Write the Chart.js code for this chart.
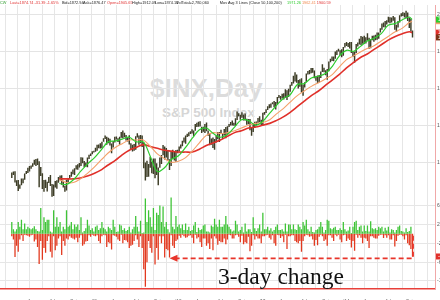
<!DOCTYPE html>
<html>
<head>
<meta charset="utf-8">
<script src="https://cdn.jsdelivr.net/npm/chart.js@4.4.1/dist/chart.umd.min.js"></script>
<style>
html, body { margin: 0; padding: 0; background: #fff; width: 440px; height: 300px; overflow: hidden; }
#wrap { position: absolute; left: 0; top: 0; width: 470px; height: 300px; z-index: 1; }
.mark { position: absolute; z-index: 0; font-family: "Liberation Sans", Arial, sans-serif; font-weight: bold; white-space: nowrap; }
#head { position: absolute; left: 0; top: 0; width: 920px; height: 12px; z-index: 2; transform: scale(0.48); transform-origin: 0 0; }
#head span { position: absolute; top: 1px; font-family: "Liberation Sans", Arial, sans-serif; font-size: 8px; line-height: 10px; white-space: nowrap; color: #222; }
#note { position: absolute; left: 218px; top: 264px; z-index: 2; font-family: "Liberation Serif", "Times New Roman", serif; font-size: 23.5px; line-height: 24px; color: #111; white-space: nowrap; }
</style>
</head>
<body>
<div class="mark" style="left:150px;top:75px;font-size:26px;line-height:26px;color:#dcdcdc">$INX,Day</div>
<div class="mark" style="left:162px;top:106px;font-size:13.5px;line-height:14px;color:#d6d6d6">S&amp;P 500 Index</div>
<div id="head">
  <span style="left:0;color:#2a9a2a">CW</span>
  <span style="left:21px;color:#e03030">Last=1874.74 -31.39 -1.65%</span>
  <span style="left:129px">Bid=1872.94</span>
  <span style="left:173px">Ask=1876.47</span>
  <span style="left:223px;color:#e03030">Open=1905.65</span>
  <span style="left:275px">High=1912.09</span>
  <span style="left:323px">Low=1874.14</span>
  <span style="left:367px">VolTotal=2,780,060</span>
  <span style="left:458px">Mov Avg 3 Lines (Close 50,100,200)</span>
  <span style="left:598px;color:#2ecc2e">1971.26</span>
  <span style="left:629px;color:#f08a50">1962.41</span>
  <span style="left:660px;color:#e03030">1900.59</span>
</div>
<div id="note">3-day change</div>
<div id="wrap"><canvas id="chart" width="470" height="300"></canvas></div>
<script>
// weekly S&P 500 range, week 0 = week of Jan 4 2010, last = Oct 13 2014
const weekHigh = [
  1145,1150,1151,1103,1104,1080,1112,1112,1139,1153,
  1170,1180,1182,1195,1213,1218,1220,1205,1174,1141,
  1104,1105,1094,1120,1131,1082,1079,1099,1103,1120,
  1128,1129,1100,1073,1105,1110,1131,1149,1160,1167,
  1184,1189,1196,1227,1226,1207,1198,1226,1241,1247,
  1259,1262,1278,1294,1296,1302,1311,1330,1344,1338,
  1332,1327,1301,1315,1338,1339,1329,1338,1364,1371,
  1359,1347,1334,1346,1303,1295,1298,1341,1356,1344,
  1347,1345,1307,1199,1208,1190,1230,1204,1220,1220,
  1195,1171,1225,1239,1293,1285,1277,1264,1216,1261,
  1267,1255,1266,1268,1285,1296,1316,1333,1345,1354,
  1362,1368,1378,1372,1406,1414,1419,1422,1392,1392,
  1406,1415,1372,1354,1328,1334,1326,1344,1363,1363,
  1375,1357,1380,1390,1395,1407,1418,1426,1413,1438,
  1474,1465,1457,1470,1458,1464,1435,1434,1433,1388,
  1409,1419,1420,1439,1448,1430,1467,1472,1486,1503,
  1514,1518,1524,1531,1525,1552,1564,1558,1570,1573,
  1594,1589,1597,1619,1634,1668,1687,1674,1644,1648,
  1654,1620,1632,1680,1693,1698,1710,1709,1696,1665,
  1669,1671,1690,1730,1711,1697,1704,1745,1760,1772,
  1771,1799,1805,1813,1806,1811,1823,1844,1850,1844,
  1850,1850,1799,1798,1839,1847,1867,1883,1878,1884,
  1875,1897,1873,1866,1884,1885,1889,1902,1901,1924,
  1950,1955,1964,1968,1986,1984,1983,1991,1984,1943,
  1964,1994,2006,2011,2008,2019,2010,1982,1977,1912
];
const weekLow = [
  1115,1131,1090,1071,1044,1056,1075,1086,1105,1136,
  1142,1150,1165,1175,1186,1180,1185,1065,1126,1055,
  1040,1060,1042,1088,1071,1011,1018,1063,1056,1089,
  1102,1078,1063,1040,1047,1091,1111,1122,1135,1131,
  1160,1159,1171,1180,1194,1173,1176,1173,1218,1233,
  1243,1252,1257,1262,1275,1274,1276,1311,1326,1294,
  1303,1291,1249,1280,1307,1323,1309,1295,1332,1329,
  1335,1318,1312,1296,1268,1258,1262,1267,1333,1295,
  1303,1282,1168,1101,1120,1122,1170,1140,1136,1114,
  1131,1075,1170,1191,1238,1215,1226,1209,1158,1179,
  1218,1209,1202,1248,1258,1274,1286,1306,1300,1337,
  1340,1352,1355,1340,1370,1391,1392,1393,1358,1365,
  1358,1367,1343,1292,1295,1277,1267,1306,1324,1309,
  1352,1326,1345,1329,1354,1391,1398,1398,1397,1396,
  1428,1449,1430,1440,1425,1426,1403,1405,1373,1343,
  1363,1385,1398,1411,1416,1401,1398,1456,1466,1482,
  1492,1495,1514,1497,1485,1514,1547,1538,1545,1539,
  1548,1536,1553,1581,1614,1626,1636,1630,1598,1608,
  1577,1560,1604,1632,1674,1676,1681,1684,1654,1640,
  1627,1633,1655,1688,1687,1670,1646,1692,1740,1747,
  1746,1760,1780,1798,1779,1768,1776,1820,1828,1823,
  1815,1790,1770,1738,1791,1825,1836,1834,1840,1839,
  1842,1858,1814,1816,1859,1851,1860,1862,1868,1901,
  1916,1930,1929,1944,1955,1952,1955,1965,1916,1904,
  1928,1955,1988,1990,1983,1978,1963,1926,1905,1874
];

// biggest 3-day gain / loss (%) inside each week
const chgUp = [
  2.5,1.0,0.5,1.0,2.5,1.5,3.0,1.0,2.2,1.0,
  1.5,1.2,1.0,1.2,1.6,1.0,0.6,0.5,5.5,0.8,
  3.5,2.5,3.0,3.0,0.5,0.3,5.0,1.5,3.5,1.5,
  2.5,0.5,1.5,1.0,5.0,1.5,1.8,2.5,1.0,2.0,
  1.5,2.0,0.8,3.5,0.3,0.6,1.2,3.0,1.8,0.8,
  1.2,0.5,1.5,1.8,0.8,1.2,2.5,1.3,1.0,0.5,
  1.5,1.2,0.8,3.0,1.5,0.4,0.5,2.0,1.8,0.8,
  1.2,0.6,0.8,1.5,0.3,1.0,1.5,3.8,1.5,0.5,
  2.8,0.2,0.3,7.5,2.5,5.0,3.5,1.5,5.5,0.8,
  4.5,4.0,6.0,2.5,5.8,1.5,2.5,1.0,0.3,7.7,
  1.5,1.0,3.8,1.5,2.0,1.2,2.0,0.8,2.2,0.8,
  1.5,0.6,0.8,1.8,2.5,0.4,1.3,0.8,1.0,1.8,
  2.0,0.5,0.5,0.3,1.8,1.5,3.2,2.0,1.5,3.0,
  1.5,1.5,2.0,3.8,2.0,1.5,1.0,0.5,0.7,2.8,
  2.0,0.5,0.8,1.5,0.3,2.2,0.5,1.0,1.0,0.4,
  3.5,1.2,0.6,1.2,2.0,0.5,4.5,1.0,1.0,1.5,
  0.7,1.2,0.5,0.8,1.5,2.0,0.8,0.8,1.0,0.5,
  2.2,0.5,2.0,2.0,1.0,2.0,1.0,0.8,2.0,1.5,
  1.0,2.5,1.8,3.0,1.0,0.5,1.5,0.4,0.3,0.8,
  1.0,1.5,2.5,1.5,0.3,0.8,3.0,2.8,1.2,1.0,
  1.3,1.5,0.8,0.8,1.2,0.8,2.5,1.0,0.5,0.7,
  1.5,0.2,1.5,2.5,2.8,0.8,1.5,1.8,0.5,1.8,
  0.6,1.8,0.5,2.7,1.2,1.0,1.2,0.8,1.5,1.2,
  1.5,0.5,1.3,0.7,1.5,0.3,1.0,0.8,0.3,0.8,
  1.5,1.8,0.6,0.5,0.3,1.2,0.4,0.6,1.5,0
];
const chgDn = [
  -0.5,-1.2,-4.9,-2.5,-3.8,-1.2,-0.3,-1.5,-0.2,-0.3,
  -0.4,-0.6,-0.3,-0.2,-1.6,-1.2,-2.8,-6.4,-1.5,-5.5,
  -3.0,-4.0,-1.5,-0.5,-3.8,-5.0,-0.5,-3.5,-2.5,-1.0,
  -0.5,-4.5,-1.5,-2.5,-1.0,-1.2,-0.5,-0.8,-1.0,-1.2,
  -0.8,-1.8,-0.8,-0.3,-2.5,-2.2,-1.6,-1.5,-0.3,-0.6,
  -0.2,-0.4,-0.5,-0.3,-1.5,-2.0,-0.5,-0.2,-0.3,-2.8,
  -1.8,-2.0,-3.3,-0.3,-0.4,-0.6,-1.2,-1.5,-0.2,-2.0,
  -1.3,-1.4,-1.8,-3.0,-2.5,-2.3,-1.5,-0.3,-1.2,-2.8,
  -0.5,-3.0,-7.5,-11.2,-6.0,-1.5,-3.0,-4.0,-0.5,-6.5,
  -3.0,-5.5,-0.5,-2.0,-0.5,-5.0,-3.2,-3.5,-5.0,-0.3,
  -2.5,-3.0,-1.5,-1.2,-0.4,-0.8,-0.2,-0.5,-0.8,-0.7,
  -0.4,-0.3,-0.8,-2.0,-0.2,-1.0,-0.7,-1.8,-2.8,-1.0,
  -1.0,-2.5,-2.0,-3.2,-1.0,-3.5,-0.5,-1.0,-2.3,-1.5,
  -1.8,-1.8,-1.0,-2.2,-1.2,-0.2,-0.3,-1.0,-1.0,-0.3,
  -0.2,-0.6,-1.8,-0.4,-2.2,-1.8,-2.0,-0.6,-3.7,-2.5,
  -0.3,-1.2,-0.5,-1.0,-1.0,-2.0,-0.5,-0.5,-0.3,-0.2,
  -0.8,-1.2,-0.3,-2.0,-2.5,-0.2,-0.3,-0.9,-0.5,-1.8,
  -0.2,-3.2,-0.5,-0.5,-0.3,-0.3,-1.5,-1.8,-2.0,-1.5,
  -3.8,-1.5,-0.5,-0.2,-0.3,-0.6,-0.5,-1.2,-2.5,-1.3,
  -2.4,-0.6,-0.2,-0.5,-1.5,-1.2,-2.5,-0.3,-0.3,-0.8,
  -1.5,-0.2,-0.5,-0.2,-1.2,-1.8,-0.3,-0.2,-1.5,-1.0,
  -1.3,-2.9,-1.5,-3.6,-0.2,-0.8,-0.3,-0.8,-2.0,-0.8,
  -1.0,-1.5,-3.0,-0.5,-0.5,-0.8,-1.0,-1.0,-0.4,-0.2,
  -0.2,-0.9,-0.3,-0.8,-0.3,-1.2,-1.2,-0.3,-2.7,-1.5,
  -0.4,-0.2,-0.2,-0.5,-1.2,-0.3,-2.0,-2.4,-3.2,-4.8
];

// moving averages on the 1st of each month, Aug 2010 .. Oct 2014, then Oct 13 2014
const ma50 = [
  1085,1080,1105,1150,1190,
  1225,1270,1310,1315,1325,1335,1310,1310,1230,1150,1170,1215,
  1235,1280,1330,1375,1385,1355,1335,1350,1390,1430,1425,1400,
  1420,1465,1505,1545,1565,1620,1625,1655,1665,1680,1720,1775,
  1805,1800,1825,1855,1870,1895,1940,1950,1970,1985,1971.26
];
const ma100 = [
  1105,1090,1090,1110,1140,
  1175,1215,1250,1280,1300,1320,1320,1320,1285,1245,1220,1200,
  1205,1225,1260,1305,1345,1360,1355,1360,1370,1385,1400,1410,
  1415,1430,1460,1490,1525,1560,1585,1610,1630,1650,1675,1715,
  1755,1775,1795,1815,1830,1855,1880,1905,1925,1955,1962.41
];
const ma200 = [
  1110,1110,1110,1115,1125,
  1140,1160,1185,1210,1240,1265,1280,1295,1285,1275,1265,1260,
  1255,1255,1255,1270,1290,1305,1320,1340,1360,1370,1385,1390,
  1400,1410,1425,1445,1470,1500,1530,1560,1585,1615,1645,1675,
  1710,1740,1765,1785,1810,1835,1860,1880,1895,1905,1900.59
];
const lastClose = 1874.74;

const priceTicks = [1200, 1400, 1600, 1800, 2000];
const chgTicks = [-10, -8, -6, -4, -2, 0, 2, 4, 6];
const quarterLabels = ['Apr', 'Jul', 'Oct', "'11", 'Apr', 'Jul', 'Oct', "'12", 'Apr', 'Jul',
  'Oct', "'13", 'Apr', 'Jul', 'Oct', "'14", 'Apr', 'Jul', 'Oct'];

// annotation: bracket from the last bar back to the week it points at
const arrowWeek = 98;
const arrowLevel = -5.2;

const DAY0 = Date.UTC(2010, 0, 1);
const dayOf = (y, m, d) => (Date.UTC(y, m, d) - DAY0) / 864e5;
const weekX = i => dayOf(2010, 0, 6 + 7 * i);
const maX = i => i < ma50.length - 1 ? dayOf(2010, 7 + i, 1) : dayOf(2014, 9, 13);
const quarterDays = quarterLabels.map((l, i) => dayOf(2010, 3 + 3 * i, 1));
const X_MIN = 3.5, X_MAX = 1796;

const candles = weekHigh.map((h, i) => ({ x: weekX(i), y: [weekLow[i], h] }));
const ups = chgUp.map((v, i) => ({ x: weekX(i), y: v }));
const downs = chgDn.map((v, i) => ({ x: weekX(i), y: v }));
const maLine = arr => arr.map((v, i) => ({ x: maX(i), y: v }));

const overlay = {
    id: 'overlay',
    afterDatasetsDraw(chart) {
        const { ctx, scales, chartArea } = chart;
        const x = scales.x, yP = scales.yP, yC = scales.yC;

        // dashed bracket + arrow
        const xEnd = x.getPixelForValue(weekX(chgDn.length - 1)) + 0.5;
        const xTo = x.getPixelForValue(weekX(arrowWeek));
        const yTop = yC.getPixelForValue(-0.4);
        const yLvl = yC.getPixelForValue(arrowLevel);
        ctx.save();
        ctx.strokeStyle = '#e8352a';
        ctx.fillStyle = '#e8352a';
        ctx.lineWidth = 1.8;
        ctx.setLineDash([5, 3]);
        ctx.beginPath();
        ctx.moveTo(xEnd, yTop);
        ctx.lineTo(xEnd, yLvl);
        ctx.lineTo(xTo + 7, yLvl);
        ctx.stroke();
        ctx.setLineDash([]);
        ctx.beginPath();
        ctx.moveTo(xTo, yLvl);
        ctx.lineTo(xTo + 8, yLvl - 3.5);
        ctx.lineTo(xTo + 8, yLvl + 3.5);
        ctx.closePath();
        ctx.fill();

        // value tags on the right axis
        const tags = [
            { s: yP, v: ma100[ma100.length - 1], c: '#f4a06a' },
            { s: yP, v: ma50[ma50.length - 1], c: '#2ecc2e' },
            { s: yP, v: ma200[ma200.length - 1], c: '#e0302a' },
            { s: yP, v: lastClose, c: '#7a3418' },
            { s: yC, v: chgDn[chgDn.length - 1], c: '#e0302a' }
        ];
        ctx.font = '4.5px "Liberation Sans", Arial, sans-serif';
        ctx.textBaseline = 'middle';
        tags.forEach(t => {
            const py = t.s.getPixelForValue(t.v);
            ctx.fillStyle = t.c;
            ctx.fillRect(chartArea.right + 1, py - 3, 30, 6);
            ctx.fillStyle = '#fff';
            ctx.fillText(t.v.toFixed(2), chartArea.right + 3, py);
        });
        ctx.restore();
    }
};

new Chart(document.getElementById('chart'), {
    type: 'bar',
    data: {
        datasets: [
            {
                type: 'line', label: 'MA 50', data: maLine(ma50), xAxisID: 'x', yAxisID: 'yP',
                borderColor: '#2ecc2e', borderWidth: 1.2, pointRadius: 0, tension: 0.35, order: 1
            },
            {
                type: 'line', label: 'MA 100', data: maLine(ma100), xAxisID: 'x', yAxisID: 'yP',
                borderColor: '#f4a06a', borderWidth: 1.1, pointRadius: 0, tension: 0.35, order: 2
            },
            {
                type: 'line', label: 'MA 200', data: maLine(ma200), xAxisID: 'x', yAxisID: 'yP',
                borderColor: '#e0302a', borderWidth: 1.6, pointRadius: 0, tension: 0.35, order: 2
            },
            {
                label: '$INX', data: candles, xAxisID: 'x', yAxisID: 'yP',
                backgroundColor: '#3d3d26', barPercentage: 0.9, categoryPercentage: 1, grouped: false, order: 3
            },
            {
                label: '3-day up', data: ups, xAxisID: 'x', yAxisID: 'yC',
                backgroundColor: '#3fc437', barPercentage: 0.8, categoryPercentage: 1, grouped: false, order: 4
            },
            {
                label: '3-day down', data: downs, xAxisID: 'x', yAxisID: 'yC',
                backgroundColor: '#e2391f', barPercentage: 0.8, categoryPercentage: 1, grouped: false, order: 4
            }
        ]
    },
    options: {
        responsive: false,
        animation: false,
        events: [],
        layout: { padding: 0 },
        plugins: {
            legend: { display: false },
            tooltip: { enabled: false }
        },
        scales: {
            x: {
                type: 'linear', position: 'bottom', min: X_MIN, max: X_MAX,
                grid: { display: false },
                border: { color: '#e8403a', width: 1.5 },
                afterBuildTicks: s => { s.ticks = quarterDays.map(v => ({ value: v })); },
                afterFit: s => { s.height = 11; },
                ticks: {
                    autoSkip: false, maxRotation: 0, padding: 2, color: '#666',
                    font: { size: 4.5 },
                    callback: (v, i) => quarterLabels[i]
                }
            },
            xg: {
                type: 'linear', position: 'top', min: X_MIN, max: X_MAX,
                ticks: { display: false },
                border: { display: false },
                grid: { color: '#e6e6e6', drawTicks: false },
                afterBuildTicks: s => {
                    const t = [];
                    for (let v = 24; v < X_MAX; v += 52.7) t.push({ value: v });
                    s.ticks = t;
                },
                afterFit: s => { s.height = 0; }
            },
            yP: {
                type: 'linear', position: 'right', stack: 'panels', stackWeight: 195,
                min: 1014, max: 2050,
                grid: { color: '#e4e4e4', drawTicks: false },
                border: { color: '#f0a8a8', width: 1 },
                afterBuildTicks: s => { s.ticks = priceTicks.map(v => ({ value: v })); },
                afterFit: s => { s.width = 35; },
                ticks: {
                    padding: 2, color: '#555', font: { size: 5 },
                    callback: v => v.toLocaleString('en-US')
                }
            },
            yC: {
                type: 'linear', position: 'right', stack: 'panels', stackWeight: 94,
                min: -11.7, max: 7.9,
                grid: { color: '#e6e6e6', drawTicks: false },
                border: { color: '#f0a8a8', width: 1 },
                afterBuildTicks: s => { s.ticks = chgTicks.map(v => ({ value: v })); },
                afterFit: s => { s.width = 35; },
                ticks: { padding: 2, color: '#555', font: { size: 5 } }
            }
        }
    },
    plugins: [overlay]
});
</script>
</body>
</html>
